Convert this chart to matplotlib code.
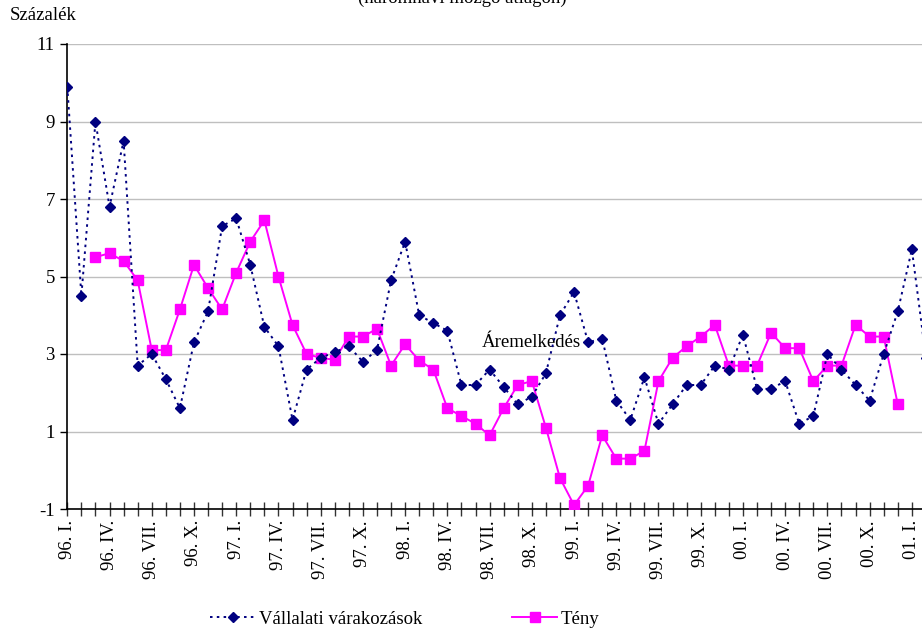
import matplotlib
matplotlib.use("Agg")
import matplotlib.pyplot as plt
import numpy as np

plt.rcParams['font.family'] = ['Liberation Serif', 'DejaVu Serif']

# ---- data ----
months = ["I.", "II.", "III.", "IV.", "V.", "VI.", "VII.", "VIII.", "IX.", "X.", "XI.", "XII."]
years = ["96", "97", "98", "99", "00", "01"]

vallalati = [9.9, 4.5, 9.0, 6.8, 8.5, 2.7, 3.0, 2.35, 1.6, 3.3, 4.1, 6.3,
             6.5, 5.3, 3.7, 3.2, 1.3, 2.6, 2.9, 3.05, 3.2, 2.8, 3.1, 4.9,
             5.9, 4.0, 3.8, 3.6, 2.2, 2.2, 2.6, 2.15, 1.7, 1.9, 2.5, 4.0,
             4.6, 3.3, 3.4, 1.8, 1.3, 2.4, 1.2, 1.7, 2.2, 2.2, 2.7, 2.6,
             3.5, 2.1, 2.1, 2.3, 1.2, 1.4, 3.0, 2.6, 2.2, 1.8, 3.0, 4.1,
             5.7, 2.9]

teny = [None, None, 5.5, 5.6, 5.4, 4.9, 3.1, 3.1, 4.15, 5.3, 4.7, 4.15,
        5.1, 5.9, 6.45, 5.0, 3.75, 3.0, 2.9, 2.85, 3.45, 3.45, 3.65, 2.7,
        3.25, 2.83, 2.6, 1.6, 1.4, 1.2, 0.9, 1.6, 2.2, 2.3, 1.1, -0.2,
        -0.9, -0.4, 0.9, 0.3, 0.3, 0.5, 2.3, 2.9, 3.2, 3.45, 3.75, 2.7,
        2.7, 2.7, 3.55, 3.15, 3.15, 2.3, 2.7, 2.7, 3.75, 3.45, 3.45, 1.7]

labels = []
for y in years:
    for m in months:
        labels.append(f"{y}. {m}")

FS = 13.5
W, H = 922, 631
fig = plt.figure(figsize=(W / 100, H / 100), dpi=100)
left_px, right_px, top_px, bot_px = 67.3, 922, 44, 509
ax = fig.add_axes([left_px / W, 1 - bot_px / H, (right_px - left_px) / W, (bot_px - top_px) / H])

x_v = np.arange(len(vallalati))
x_t = np.arange(len(teny))
teny_arr = np.array([np.nan if v is None else v for v in teny], dtype=float)

ax.plot(x_t, teny_arr, color='#FF00FF', lw=1.4, marker='s', markersize=6.5,
        markeredgecolor='#FF00FF', label='Tény', zorder=3)
ax.plot(x_v, vallalati, color='#000080', lw=1.4, linestyle=(0, (1.3, 2.2)), marker='D',
        markersize=5.0, markeredgecolor='#000080', label='Vállalati várakozások', zorder=4)

ax.set_xlim(0, (right_px - left_px) / 14.076)
ax.set_ylim(-1, 11)
ax.set_yticks(range(-1, 12, 2))
ax.set_yticklabels([str(v) for v in range(-1, 12, 2)], fontsize=FS)
ax.yaxis.grid(True, color='#BFBFBF', lw=1.0)
ax.set_axisbelow(True)

ax.set_xticks(range(0, 61))
ax.set_xticklabels([labels[i] if i % 3 == 0 else '' for i in range(61)],
                   rotation=90, fontsize=FS, va='top', ha='center')
ax.tick_params(axis='x', direction='inout', length=10, width=1.0, pad=3, color='#333333')
ax.tick_params(axis='y', direction='out', length=5, width=1.0, pad=4)

for s in ['top', 'right']:
    ax.spines[s].set_visible(False)
ax.spines['left'].set_linewidth(1.2)
ax.spines['bottom'].set_linewidth(1.2)

ax.text(33, 3.3, 'Áremelkedés', fontsize=FS, ha='center', va='center')

fig.text(10 / W, 1 - 16 / H, 'Százalék', fontsize=FS, ha='left', va='center')
fig.text(462 / W, 1 - 3 / H, '(háromhavi mozgó átlagon)', fontsize=FS, ha='center', va='baseline')

h, l = ax.get_legend_handles_labels()
fig.legend([h[1], h[0]], [l[1], l[0]], loc='center', bbox_to_anchor=(405 / W, 1 - 619 / H),
           ncol=2, frameon=False, fontsize=FS, handlelength=2.4, columnspacing=4.8,
           handletextpad=0.2)

fig.savefig('out.png', dpi=100)
